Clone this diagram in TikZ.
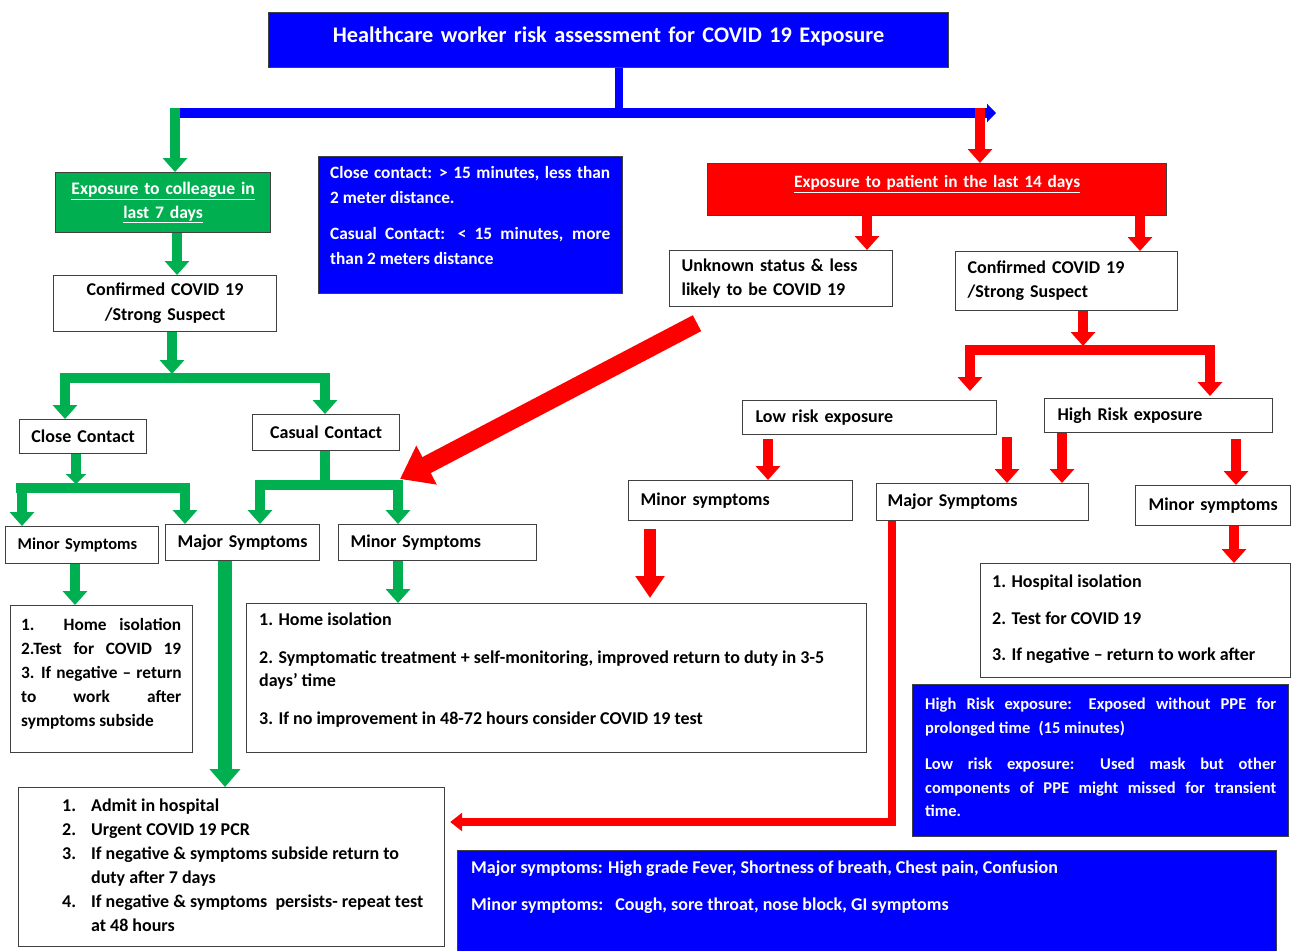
\documentclass[tikz,border=0pt]{standalone}
\usepackage{fontspec}
\setmainfont{Carlito}
\usetikzlibrary{arrows.meta,calc}
\definecolor{cblue}{HTML}{0000FF}
\definecolor{cgreen}{HTML}{00B050}
\definecolor{cred}{HTML}{FF0000}
\definecolor{cedge}{HTML}{404040}
\newcommand\fsz[2]{\fontsize{#1}{#2}\selectfont}
\newcommand\jline[2]{\hbox to #1{\spaceskip=0.3em plus 1fil\relax #2}}
\begin{document}
\begin{tikzpicture}[x=1pt,y=-1pt,
 box/.style={draw=cedge, line width=1.2pt, fill=white, anchor=north west, inner ysep=0pt, inner xsep=0pt, font=\bfseries\fsz{18}{24}, align=center},
 bluebox/.style={box, fill=cblue, text=white},
 txt/.style={anchor=north west, inner sep=0pt, align=left, font=\bfseries\fsz{18}{24}},
 garr/.style={draw=cgreen, line width=10pt, -{Triangle[width=24pt,length=14pt]}},
 gline/.style={draw=cgreen, line width=10pt},
 rarr/.style={draw=cred, line width=10pt, -{Triangle[width=24pt,length=14pt]}},
 rline/.style={draw=cred, line width=10pt},
]
\useasboundingbox (0,0) rectangle (1295,950);
\fill[white] (0,0) rectangle (1295,950);

% ---------- nodes ----------
\node[bluebox, minimum width=680pt, minimum height=55pt, text width=680pt, font=\bfseries\fsz{22.3}{27}, text height=16pt, text depth=12pt] (title) at (268,12) {Healthcare worker risk assessment for COVID 19 Exposure};

\node[box, fill=cgreen, text=white, minimum width=215pt, minimum height=60pt, text width=215pt, font=\bfseries\fsz{17.6}{24}] (colleague) at (55,172) {\underline{Exposure to colleague in}\\\underline{last 7 days}};
\node[box, minimum width=223pt, minimum height=56pt, text width=223pt, font=\bfseries\fsz{18}{25}] (confL) at (53,275) {Confirmed COVID 19\\/Strong Suspect};

\node[bluebox, minimum width=304pt, minimum height=137pt] (defs) at (318,156) {};
\node[txt, text=white, font=\bfseries\fsz{17.3}{25}] (defsT) at (330,166) {\jline{280pt}{Close contact: > 15 minutes, less than}\\ 2 meter distance.\\[11pt] \jline{280pt}{Casual Contact: < 15 minutes, more}\\ than 2 meters distance};

\node[box, fill=cred, text=white, minimum width=459pt, minimum height=52pt, text width=459pt, font=\bfseries\fsz{17.3}{24}, text height=13pt, text depth=17pt] (redbox) at (707,163) {\underline{Exposure to patient in the last 14 days}};

\node[box, minimum width=223pt, minimum height=56pt, inner xsep=12pt, text width=199pt, align=left] (unknown) at (669,250) {Unknown status \& less\\likely to be COVID 19};
\node[box, minimum width=222pt, minimum height=59pt, inner xsep=12pt, text width=198pt, align=left] (confR) at (955,251) {Confirmed COVID 19\\/Strong Suspect};

\node[box, minimum width=127pt, minimum height=34pt, text width=127pt] (close) at (19,419) {Close Contact};
\node[box, minimum width=147pt, minimum height=36pt, text width=147pt] (casual) at (252,414) {Casual Contact};

\node[box, minimum width=254pt, minimum height=34pt, inner xsep=13pt, text width=228pt, align=left] (low) at (742,400) {Low risk exposure};
\node[box, minimum width=228pt, minimum height=34pt, inner xsep=13pt, text width=202pt, align=left] (high) at (1044,398) {High Risk exposure};

\node[box, minimum width=224pt, minimum height=40pt, inner xsep=12pt, text width=200pt, align=left] (minorC) at (628,480) {Minor symptoms};
\node[box, minimum width=212pt, minimum height=37pt, inner xsep=11pt, text width=190pt, align=left] (majorR) at (876,483) {Major Symptoms};
\node[box, minimum width=155pt, minimum height=40pt, text width=155pt] (minorR) at (1135,485) {Minor symptoms};

\node[box, minimum width=153pt, minimum height=37pt, inner xsep=12pt, text width=129pt, align=left, font=\bfseries\fsz{16.5}{22}] (minorL) at (5,526) {Minor Symptoms};
\node[box, minimum width=154pt, minimum height=36pt, text width=154pt] (majorL) at (165,524) {Major Symptoms};
\node[box, minimum width=198pt, minimum height=36pt, inner xsep=12pt, text width=174pt, align=left] (minorM) at (338,524) {Minor Symptoms};

\node[box, minimum width=182pt, minimum height=147pt] (home) at (10,605) {};
\node[txt, font=\bfseries\fsz{17.3}{24}] (homeT) at (21,618) {\jline{160pt}{1. Home isolation}\\ \jline{160pt}{2.Test for COVID 19}\\ \jline{160pt}{3. If negative – return}\\ \jline{160pt}{to work after}\\ symptoms subside};

\node[box, minimum width=620pt, minimum height=149pt] (mid) at (246,603) {};
\node[txt, font=\bfseries\fsz{18}{23}] (midT) at (259,613) {1. Home isolation\\[15pt] 2. Symptomatic treatment + self-monitoring, improved return to duty in 3-5\\ days’ time\\[15pt] 3. If no improvement in 48-72 hours consider COVID 19 test};

\node[box, minimum width=310pt, minimum height=114pt] (hosp) at (980,563) {};
\node[txt] (hospT) at (992,575) {1. Hospital isolation\\[13pt] 2. Test for COVID 19\\[12pt] 3. If negative – return to work after};

\node[bluebox, minimum width=376pt, minimum height=152pt] (hr) at (912,684) {};
\node[txt, text=white, font=\bfseries\fsz{16.5}{23.5}] (hrT) at (925,698) {\jline{351pt}{High Risk exposure: Exposed without PPE for}\\ prolonged time\enspace(15 minutes)\\[13pt] \jline{351pt}{Low risk exposure: Used mask but other}\\ \jline{351pt}{components of PPE might missed for transient}\\ time.};

\node[box, minimum width=426pt, minimum height=159pt] (admit) at (18,787) {};
\node[txt] (admitT) at (62,794) {\begin{tabular}{@{}r@{\hspace{15pt}}l@{}}1. & Admit in hospital\\ 2. & Urgent COVID 19 PCR\\ 3. & If negative \& symptoms subside return to\\ & duty after 7 days\\ 4. & If negative \& symptoms\ \ persists- repeat test\\ & at 48 hours\end{tabular}};

\node[bluebox, minimum width=819pt, minimum height=110pt] (bottom) at (457,850) {};
\node[txt, text=white, font=\bfseries\fsz{18}{37}] (bottomT) at (471,861) {Major symptoms: High grade Fever, Shortness of breath, Chest pain, Confusion\\ Minor symptoms:\hspace{12pt}Cough, sore throat, nose block, GI symptoms};

% ---------- blue top connector ----------
\coordinate (jtop) at (619,113);
\coordinate (jStart) at (170,113);
\coordinate (jEnd) at (996,113);
\coordinate (jL) at (175,108);
\coordinate (jR) at (980,108);
\draw[draw=cblue, line width=8pt] (title.south -| jtop) -- (jtop);
\draw[draw=cblue, line width=10pt, -{Triangle[width=18pt,length=9pt]}] (jStart) -- (jEnd);
\draw[garr] (jL) -- (jL |- colleague.north);
\draw[rarr] (jR) -- (jR |- redbox.north);

% ---------- green (colleague) branch ----------
\coordinate (g2) at (177,0);
\draw[garr] (colleague.south -| g2) -- (confL.north -| g2);
\coordinate (gb1) at (172,378);
\coordinate (gb1L) at (60,378);
\coordinate (gb1R) at (330,378);
\draw[gline] (gb1L) -- (gb1R);
\draw[garr] (confL.south -| gb1) -- ($(gb1)+(0,-4)$);
\coordinate (g4) at (65,373);
\draw[garr] (g4) -- (g4 |- close.north);
\coordinate (g5) at (325,373);
\draw[garr] (g5) -- (g5 |- casual.north);

\coordinate (gb2L) at (16,488);
\coordinate (gb2R) at (190,488);
\draw[gline] (gb2L) -- (gb2R);
\coordinate (g6) at (76,484);
\draw[garr, -{Triangle[width=20pt,length=10pt]}] (close.south -| g6) -- (g6);
\coordinate (g7) at (22,483);
\draw[garr] (g7) -- (g7 |- minorL.north);
\coordinate (g8) at (185,483);
\draw[garr] (g8) -- (g8 |- majorL.north);

\coordinate (gb3L) at (256,485);
\coordinate (gb3R) at (402,485);
\coordinate (g9) at (325,485);
\draw[gline] (casual.south -| g9) -- (g9);
\draw[gline] (gb3L) -- (gb3R);
\coordinate (g10) at (260,480);
\draw[garr] (g10) -- (g10 |- majorL.north);
\coordinate (g11) at (398,480);
\draw[garr] (g11) -- (g11 |- minorM.north);

\coordinate (g12) at (75,0);
\draw[garr] (minorL.south -| g12) -- (home.north -| g12);
\coordinate (g13) at (225,0);
\draw[garr, line width=14pt, -{Triangle[width=30pt,length=18pt]}] (majorL.south -| g13) -- (admit.north -| g13);
\coordinate (g14) at (398,0);
\draw[garr] (minorM.south -| g14) -- (mid.north -| g14);

% ---------- red (patient) branch ----------
\coordinate (r2) at (867,0);
\draw[rarr] ($(redbox.south -| r2)+(0,-7)$) -- (unknown.north -| r2);
\coordinate (r3) at (1140,0);
\draw[rarr] ($(redbox.south -| r3)+(0,-7)$) -- (confR.north -| r3);

\coordinate (rb) at (1083,350);
\coordinate (rbL) at (965,350);
\coordinate (rbR) at (1215,350);
\draw[rline] (rbL) -- (rbR);
\draw[rarr] (confR.south -| rb) -- ($(rb)+(0,-4)$);
\coordinate (r5) at (970,346);
\draw[rarr] (r5) -- ($(r5 |- low.north)+(0,-9)$);
\coordinate (r6) at (1210,346);
\draw[rarr] (r6) -- ($(r6 |- high.north)+(0,-2)$);

\coordinate (r7) at (768,0);
\draw[rarr] ($(low.south -| r7)+(0,4)$) -- (minorC.north -| r7);
\coordinate (r8) at (1007,0);
\draw[rarr] ($(low.south -| r8)+(0,2)$) -- (majorR.north -| r8);
\coordinate (r9) at (1062,0);
\draw[rarr] (high.south -| r9) -- (majorR.north -| r9);
\coordinate (r10) at (1236,0);
\draw[rarr] ($(high.south -| r10)+(0,6)$) -- (minorR.north -| r10);
\coordinate (r11) at (1234,0);
\draw[rarr] (minorR.south -| r11) -- (hosp.north -| r11);

\coordinate (r12) at (650,0);
\draw[rarr, line width=12pt, -{Triangle[width=28pt,length=22pt]}] ($(minorC.south -| r12)+(0,8)$) -- ($(mid.north -| r12)+(0,-5)$);

\coordinate (r13) at (892,822);
\draw[rarr, line width=8pt, line join=miter, -{Triangle[width=18pt,length=12pt]}] (majorR.south -| r13) -- (r13) -- ($(admit.east |- r13)+(5,0)$);

\coordinate (dS) at ($(unknown.south west)+(28,16)$);
\coordinate (dE) at (400,479);
\draw[rarr, line width=18pt, -{Triangle[width=42pt,length=30pt]}] (dS) -- (dE);
\end{tikzpicture}
\end{document}
